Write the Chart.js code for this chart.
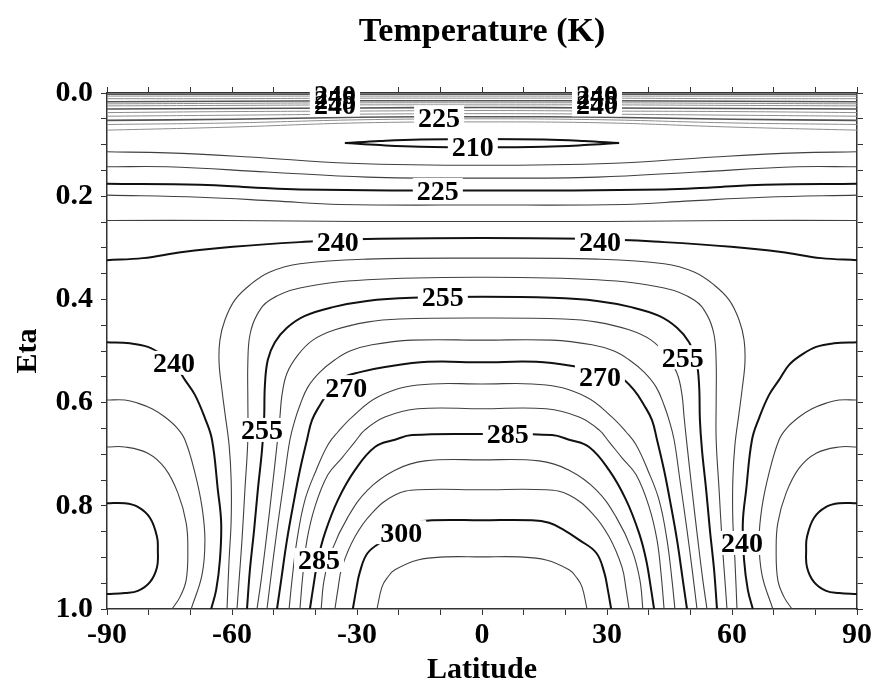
<!DOCTYPE html>
<html>
<head>
<meta charset="utf-8">
<title>Temperature (K)</title>
<script src="https://cdn.jsdelivr.net/npm/chart.js@4.4.1/dist/chart.umd.min.js"></script>
<style>
  html, body { margin: 0; padding: 0; background: #ffffff; }
  #wrap { width: 874px; height: 690px; }
</style>
</head>
<body>
<div id="wrap"><canvas id="chart" width="874" height="690"></canvas></div>
<script>
// Zonal-mean temperature (K) as contours in latitude / eta, 5 K apart.
// Every array holds [latitude, eta] pairs over the southern half (lat <= 0);
// the field is symmetric about the equator, so the northern half reuses
// the same pairs with the latitude sign flipped.

const latTickLabels = [-90, -60, -30, 0, 30, 60, 90];
const etaTickLabels = [0.0, 0.2, 0.4, 0.6, 0.8, 1.0];

// contours that cross the equator (traced from their southern end to lat 0)
const c305 = [[-25.2,1.0],[-24.0,0.957],[-22.6,0.938],[-20.9,0.924],[-15.4,0.905],[-8.9,0.899],[0,0.899]];
const c300 = [[-31.0,1.0],[-30.2,0.963],[-29.3,0.928],[-27.4,0.891],[-23.3,0.866],[-19.7,0.847],[-16.1,0.833],[-12.0,0.828],[0,0.828]];
const c295 = [[-35.3,1.0],[-34.6,0.963],[-33.6,0.919],[-30.5,0.860],[-26.4,0.814],[-20.9,0.779],[-15.4,0.769],[0,0.769]];
const c290 = [[-38.6,1.0],[-37.9,0.944],[-36.0,0.886],[-32.2,0.822],[-27.4,0.769],[-20.9,0.731],[-13.7,0.713],[0,0.711]];
const c285 = [[-41.3,1.0],[-40.6,0.963],[-39.4,0.905],[-37.7,0.853],[-34.6,0.789],[-30.5,0.731],[-25.7,0.686],[-20.9,0.672],[-16.8,0.663],[0,0.661]];
const c280 = [[-43.7,1.0],[-43.0,0.934],[-42.0,0.866],[-40.1,0.802],[-37.0,0.740],[-33.6,0.707],[-30.5,0.676],[-28.1,0.653],[-23.3,0.628],[-15.4,0.612],[0,0.612]];
const c275 = [[-46.3,1.0],[-45.6,0.944],[-44.4,0.866],[-42.5,0.789],[-39.8,0.731],[-37.0,0.682],[-34.6,0.657],[-31.2,0.628],[-25.0,0.589],[-15.4,0.566],[0,0.564]];
const c270 = [[-49.2,1.0],[-48.2,0.944],[-46.8,0.866],[-45.1,0.789],[-43.7,0.731],[-42.0,0.672],[-40.8,0.634],[-38.9,0.605],[-36.5,0.576],[-33.4,0.552],[-29.3,0.541],[-23.3,0.531],[-13.0,0.521],[0,0.522]];
const c265 = [[-51.6,1.0],[-50.6,0.934],[-49.2,0.847],[-47.5,0.750],[-46.1,0.672],[-44.9,0.634],[-43.7,0.605],[-41.8,0.570],[-38.9,0.541],[-35.3,0.517],[-31.7,0.500],[-26.4,0.488],[-16.8,0.479],[0,0.479]];
const c260 = [[-54.0,1.0],[-53.0,0.944],[-51.8,0.866],[-50.4,0.769],[-49.2,0.682],[-48.5,0.628],[-48.0,0.585],[-46.8,0.543],[-44.2,0.508],[-40.6,0.479],[-35.3,0.459],[-27.6,0.444],[-19.7,0.438],[0,0.436]];
const c255 = [[-56.4,1.0],[-55.7,0.924],[-54.7,0.847],[-53.8,0.769],[-52.8,0.692],[-52.3,0.634],[-52.1,0.566],[-51.4,0.517],[-49.7,0.483],[-46.8,0.455],[-42.5,0.432],[-35.8,0.415],[-27.6,0.403],[-16.8,0.397],[0,0.395]];
const c250 = [[-58.8,1.0],[-58.3,0.944],[-57.6,0.866],[-56.9,0.769],[-56.2,0.672],[-56.2,0.595],[-56.2,0.523],[-55.7,0.469],[-54.0,0.430],[-50.9,0.401],[-43.7,0.378],[-27.6,0.362],[0,0.357]];
const c245 = [[-61.2,1.0],[-60.7,0.905],[-60.2,0.828],[-60.2,0.750],[-60.7,0.682],[-61.7,0.620],[-62.4,0.576],[-63.1,0.523],[-62.9,0.479],[-61.7,0.440],[-59.3,0.401],[-55.7,0.372],[-50.9,0.347],[-43.7,0.331],[-27.6,0.322],[0,0.320]];
const c240 = [[-90,0.324],[-81.4,0.320],[-71.8,0.308],[-59.8,0.298],[-43.7,0.289],[-27.6,0.283],[0,0.281]];
const c235 = [[-90,0.247],[-60,0.247],[-30,0.249],[0,0.249]];
const c230 = [[-90,0.198],[-67.7,0.202],[-50,0.209],[-34.1,0.216],[0,0.217]];
const c225 = [[-90,0.176],[-67.7,0.178],[-55,0.183],[-43.7,0.187],[0,0.189]];
const c220 = [[-90,0.143],[-75.6,0.143],[-51.6,0.153],[-27.6,0.163],[0,0.165]];
const c215 = [[-90,0.114],[-75.6,0.116],[-55.7,0.124],[-31.7,0.136],[0,0.140]];
// the cold 210 K lens: upper and lower edges
const c210top = [[-32.9,0.097],[-24.5,0.093],[-14.9,0.090],[0,0.089]];
const c210bot = [[-32.9,0.097],[-24.5,0.101],[-14.9,0.104],[0,0.105]];
// tightly packed warm layer near the model top
const s215 = [[-90,0.072],[-60,0.066],[-30,0.058],[0,0.056]];
const s220 = [[-90,0.061],[-60,0.058],[-30,0.052],[0,0.050]];
const s225 = [[-90,0.053],[-60,0.051],[-30,0.047],[0,0.046]];
const s230 = [[-90,0.045],[-60,0.043],[-30,0.041],[0,0.040]];
const s235 = [[-90,0.038],[-60,0.036],[-30,0.035],[0,0.034]];
const s240 = [[-90,0.031],[-60,0.030],[-30,0.029],[0,0.028]];
const s245 = [[-90,0.025],[-60,0.024],[-30,0.023],[0,0.023]];
const s250 = [[-90,0.021],[-60,0.020],[-30,0.019],[0,0.019]];
const s255 = [[-90,0.017],[-60,0.016],[-30,0.015],[0,0.015]];
const s260 = [[-90,0.011],[-60,0.011],[-30,0.010],[0,0.010]];
const s265 = [[-90,0.006],[-60,0.006],[-30,0.006],[0,0.006]];
const s255top = [[-90,0.0025],[-45,0.0025],[0,0.0025]];

// polar contours (one copy in each hemisphere)
const p240 = [[-90,0.483],[-84.5,0.485],[-80.2,0.492],[-76.6,0.508],[-73.7,0.527],[-71.3,0.556],[-68.9,0.585],[-66.5,0.630],[-64.8,0.672],[-63.4,0.769],[-62.6,0.833],[-62.9,0.905],[-63.8,0.963],[-65.0,1.0]];
const p235 = [[-90,0.595],[-85.7,0.595],[-82.6,0.601],[-79.2,0.612],[-76.1,0.628],[-73.2,0.649],[-71.3,0.672],[-68.9,0.736],[-67.2,0.802],[-66.5,0.866],[-67.2,0.934],[-69.8,1.0]];
const p230 = [[-90,0.686],[-85.7,0.686],[-80.2,0.698],[-76.1,0.727],[-73.0,0.775],[-71.0,0.833],[-70.6,0.886],[-71.0,0.944],[-72.5,0.977],[-74.4,1.0]];
const p225 = [[-90,0.795],[-85.7,0.795],[-82.6,0.802],[-79.7,0.823],[-78.0,0.860],[-77.8,0.886],[-78.0,0.919],[-79.7,0.948],[-82.6,0.965],[-85.7,0.969],[-90,0.971]];

// contour labels: value, latitude, eta
const labelText = [240, 255, 240, 240, 255, 240, 225, 210, 225, 240, 240, 255, 240, 255, 270, 270, 255, 285, 300, 285, 240];
const labelLat  = [-35.3, -35.3, -35.3, 27.6, 27.6, 27.6, -10.3, -2.2, -10.6, -34.6, 28.3, -9.4, -73.9, 48.2, -32.6, 28.3, -52.8, 6.2, -19.4, -39.1, 62.4];
const labelEta  = [0.003, 0.012, 0.022, 0.003, 0.012, 0.022, 0.047, 0.103, 0.188, 0.287, 0.287, 0.395, 0.523, 0.512, 0.570, 0.550, 0.653, 0.659, 0.851, 0.905, 0.872];

const spanContours = [
  [305, c305], [300, c300], [295, c295], [290, c290], [285, c285], [280, c280],
  [275, c275], [270, c270], [265, c265], [260, c260], [255, c255], [250, c250],
  [245, c245], [240, c240], [235, c235], [230, c230], [225, c225], [220, c220],
  [215, c215], [210, c210top], [210, c210bot]
];
const topLayerContours = [
  [215, s215], [220, s220], [225, s225], [230, s230], [235, s235], [240, s240],
  [245, s245], [250, s250], [255, s255], [260, s260], [265, s265], [255, s255top]
];
const polarContours = [[240, p240], [235, p235], [230, p230], [225, p225]];

const SERIF = "'Liberation Serif', 'Times New Roman', serif";

function lineStyle(level, packed) {
  const major = level % 15 === 0;
  if (packed) return { borderColor: major ? '#555555' : '#8c8c8c', borderWidth: major ? 1.6 : 1 };
  return { borderColor: major ? '#111111' : '#404040', borderWidth: major ? 2 : 1.1 };
}
function toPoints(pairs, sign) {
  return pairs.map(([lat, eta]) => ({ x: sign * lat, y: eta }));
}
function makeSet(level, points, packed) {
  return Object.assign({
    label: String(level), data: points, showLine: true, fill: false,
    pointRadius: 0, pointHoverRadius: 0, tension: 0.4
  }, lineStyle(level, packed));
}
function acrossEquator(pairs) {
  const south = toPoints(pairs, 1);
  const north = toPoints(pairs.slice(0, -1).reverse(), -1);
  return south.concat(north);
}

const datasets = [];
topLayerContours.forEach(([level, pairs]) => datasets.push(makeSet(level, acrossEquator(pairs), true)));
spanContours.forEach(([level, pairs]) => datasets.push(makeSet(level, acrossEquator(pairs), false)));
polarContours.forEach(([level, pairs]) => {
  datasets.push(makeSet(level, toPoints(pairs, 1), false));
  datasets.push(makeSet(level, toPoints(pairs, -1), false));
});

// contour value labels on white boxes
const contourLabels = {
  id: 'contourLabels',
  afterDatasetsDraw(chart) {
    const { ctx } = chart;
    const xs = chart.scales.x, ys = chart.scales.y;
    ctx.save();
    ctx.font = 'bold 28px ' + SERIF;
    ctx.textAlign = 'center';
    ctx.textBaseline = 'alphabetic';
    const spots = labelText.map((v, i) => {
      const t = String(v);
      return { t, px: xs.getPixelForValue(labelLat[i]), py: ys.getPixelForValue(labelEta[i]), w: ctx.measureText(t).width };
    });
    ctx.fillStyle = '#ffffff';
    spots.forEach(s => ctx.fillRect(s.px - s.w / 2 - 4, s.py - 12, s.w + 8, 24));
    ctx.fillStyle = '#000000';
    spots.forEach(s => ctx.fillText(s.t, s.px, s.py + 9.5));
    ctx.restore();
  }
};

const tickFont = { family: SERIF, size: 30, weight: 'bold' };
const titleFont = { family: SERIF, size: 30, weight: 'bold' };

function frameAxis(extra) {
  return Object.assign({
    type: 'linear',
    grid: { display: true, drawOnChartArea: false, drawTicks: true, tickLength: 6, color: '#333333', lineWidth: 1 },
    border: { display: true, color: '#333333', width: 1.5 }
  }, extra);
}

new Chart(document.getElementById('chart'), {
  type: 'scatter',
  data: { datasets },
  plugins: [contourLabels],
  options: {
    responsive: false,
    animation: false,
    devicePixelRatio: 1,
    layout: { padding: 0 },
    plugins: {
      legend: { display: false },
      tooltip: { enabled: false },
      title: {
        display: true, text: 'Temperature (K)', fullSize: false, color: '#000000',
        font: { family: SERIF, size: 34, weight: 'bold' }, padding: { top: 12, bottom: 8 }
      }
    },
    scales: {
      x: frameAxis({
        position: 'bottom', min: -90, max: 90,
        ticks: {
          stepSize: 10, maxTicksLimit: 100, autoSkip: false, maxRotation: 0, minRotation: 0,
          color: '#000000', font: tickFont, padding: 2,
          callback: v => (latTickLabels.includes(v) ? String(v) : '')
        },
        title: { display: true, text: 'Latitude', color: '#000000', font: titleFont, padding: { top: 0, bottom: 2 } },
        afterFit: s => { s.height = 81; }
      }),
      x2: frameAxis({
        position: 'top', min: -90, max: 90,
        ticks: { stepSize: 10, maxTicksLimit: 100, autoSkip: false, maxRotation: 0, font: { size: 2 }, callback: () => '' },
        afterFit: s => { s.height = 93 - (12 + 34 * 1.2 + 8); }
      }),
      y: frameAxis({
        position: 'left', min: 0, max: 1, reverse: true,
        ticks: {
          stepSize: 0.05, maxTicksLimit: 100, autoSkip: false, color: '#000000', font: tickFont, padding: 8,
          callback: v => {
            const hit = etaTickLabels.find(t => Math.abs(t - v) < 1e-6);
            return hit === undefined ? '' : hit.toFixed(1);
          }
        },
        title: { display: true, text: 'Eta', color: '#000000', font: titleFont, padding: { top: 10, bottom: 0 } },
        afterFit: s => { s.width = 107; }
      }),
      y2: frameAxis({
        position: 'right', min: 0, max: 1, reverse: true,
        ticks: { stepSize: 0.05, maxTicksLimit: 100, autoSkip: false, font: { size: 2 }, callback: () => '' },
        afterFit: s => { s.width = 17; }
      })
    }
  }
});
</script>
</body>
</html>
